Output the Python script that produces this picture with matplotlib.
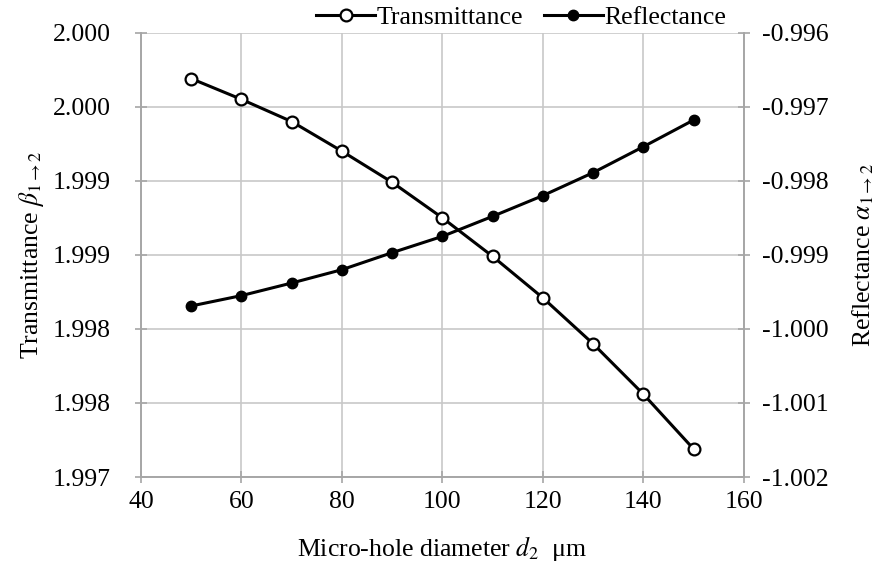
import numpy as np
import matplotlib
matplotlib.use('Agg')
import matplotlib.pyplot as plt

plt.rcParams['font.family'] = ['Liberation Serif', 'DejaVu Serif']
plt.rcParams['mathtext.fontset'] = 'stix'

diameter = [50, 60, 70, 80, 90, 100, 110, 120, 130, 140, 150]
transmittance = [1.99969, 1.99955, 1.99940, 1.99920, 1.99899, 1.99875,
                 1.99849, 1.99821, 1.99790, 1.99756, 1.99719]
reflectance = [-0.99969, -0.99955, -0.99938, -0.99920, -0.99897, -0.99875,
               -0.99848, -0.99820, -0.99789, -0.99754, -0.99718]

x_ticks = [40, 60, 80, 100, 120, 140, 160]
left_ticks = [1.9970, 1.9975, 1.9980, 1.9985, 1.9990, 1.9995, 2.0000]
left_labels = ['1.997', '1.998', '1.998', '1.999', '1.999', '2.000', '2.000']
right_ticks = [-1.002, -1.001, -1.000, -0.999, -0.998, -0.997, -0.996]
right_labels = ['-1.002', '-1.001', '-1.000', '-0.999', '-0.998', '-0.997', '-0.996']

fs = 18.5
spine_col = '#a6a6a6'
grid_col = '#c8c8c8'

fig = plt.figure(figsize=(8.76, 5.67), dpi=100)
ax = fig.add_axes([0.161, 0.1587, 0.688, 0.7836])
ax2 = ax.twinx()

line_t, = ax.plot(diameter, transmittance, color='black', lw=2.2, marker='o',
                  markersize=8.5, markerfacecolor='white', markeredgecolor='black',
                  markeredgewidth=1.6, label='Transmittance', zorder=3)
line_r, = ax2.plot(diameter, reflectance, color='black', lw=2.2, marker='o',
                   markersize=7.5, markerfacecolor='black', markeredgecolor='black',
                   label='Reflectance', zorder=3)

ax.set_xlim(40, 160)
ax.set_ylim(1.9970, 2.0000)
ax2.set_ylim(-1.002, -0.996)

ax.set_xticks(x_ticks)
ax.set_yticks(left_ticks)
ax.set_yticklabels(left_labels)
ax2.set_yticks(right_ticks)
ax2.set_yticklabels(right_labels)

ax.grid(True, color=grid_col, lw=1.2)
ax.set_axisbelow(True)

for a in (ax, ax2):
    for s in a.spines.values():
        s.set_color(spine_col)
        s.set_linewidth(1.2)
    a.tick_params(labelsize=fs, colors=spine_col, labelcolor='black',
                  direction='inout', length=8, width=1.2, pad=6)
ax.tick_params(axis='y', pad=18)
ax2.tick_params(axis='y', pad=9)
ax.spines['top'].set_visible(False)
ax2.spines['top'].set_visible(False)

ax.set_xlabel(r'Micro-hole diameter $d_2$  μm', fontsize=fs, labelpad=15)
ax.set_ylabel(r'Transmittance $\beta_{1\rightarrow2}$', fontsize=fs, labelpad=5)
ax2.set_ylabel(r'Reflectance $\alpha_{1\rightarrow2}$', fontsize=fs, labelpad=16)

fig.legend(handles=[line_t, line_r], loc='upper center', bbox_to_anchor=(0.595, 1.03),
           ncol=2, frameon=False, fontsize=fs, handlelength=2.3, handletextpad=0.05,
           columnspacing=0.8)

fig.savefig('out.png', dpi=100)
